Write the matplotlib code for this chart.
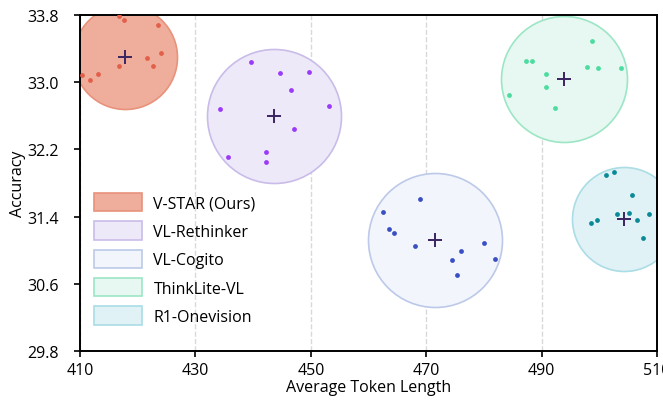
import matplotlib.pyplot as plt
from matplotlib.patches import Patch

plt.rcParams['font.family'] = ['Open Sans', 'DejaVu Sans']

models = ['V-STAR (Ours)', 'VL-Rethinker', 'VL-Cogito', 'ThinkLite-VL', 'R1-Onevision']

# mean (token length, accuracy) per model
centers_x = [417.8, 443.6, 471.5, 493.8, 504.3]
centers_y = [33.30, 32.60, 31.12, 33.03, 31.37]

# individual runs
runs_x = [
    [416.7, 417.7, 423.6, 424.1, 421.6, 422.6, 416.7, 413.2, 411.7, 410.3],
    [439.6, 444.6, 449.6, 446.6, 434.2, 453.1, 447.1, 442.2, 435.7, 442.2],
    [469.0, 462.5, 463.5, 464.5, 468.0, 480.0, 476.0, 474.5, 481.9, 475.4],
    [498.8, 487.3, 488.3, 497.8, 499.8, 503.7, 490.8, 490.8, 484.3, 492.4],
    [501.1, 502.6, 505.6, 503.1, 505.1, 508.6, 499.6, 498.6, 506.6, 507.6],
]
runs_y = [
    [33.78, 33.74, 33.68, 33.34, 33.28, 33.19, 33.19, 33.10, 33.02, 33.08],
    [33.24, 33.11, 33.12, 32.91, 32.68, 32.72, 32.44, 32.17, 32.11, 32.05],
    [31.61, 31.45, 31.25, 31.21, 31.05, 31.08, 30.99, 30.88, 30.90, 30.70],
    [33.49, 33.25, 33.25, 33.18, 33.17, 33.17, 33.09, 32.94, 32.85, 32.69],
    [31.90, 31.93, 31.66, 31.43, 31.44, 31.43, 31.36, 31.32, 31.36, 31.15],
]

fill_colors = ['#EFAE9C', '#EEE9F9', '#F2F5FC', '#E6F8F1', '#E1F2F6']
edge_colors = ['#E8927B', '#C9BCE9', '#BCC9E8', '#9CE6C6', '#AADDE5']
dot_colors = ['#E2604A', '#9B3BFA', '#3A4FC4', '#4CDCA0', '#0A8A96']
circle_px = [52, 67, 67, 63, 52]

fig, ax = plt.subplots(figsize=(6.63, 4.02), dpi=100)
fig.subplots_adjust(left=0.1207, right=0.991, top=0.961, bottom=0.124)

for i in range(len(models)):
    s = (2 * circle_px[i] * 0.72) ** 2
    ax.scatter(centers_x[i], centers_y[i], s=s, facecolor=fill_colors[i],
               edgecolor=edge_colors[i], linewidth=1.2, zorder=2)
    ax.scatter(runs_x[i], runs_y[i], s=12, color=dot_colors[i], linewidth=0, zorder=3)
    ax.scatter(centers_x[i], centers_y[i], s=110, marker='+', color='#3B2461',
               linewidth=1.4, zorder=4)

ax.set_xlim(410, 510)
ax.set_ylim(29.8, 33.8)
ax.set_xticks([410, 430, 450, 470, 490, 510])
ax.set_yticks([29.8, 30.6, 31.4, 32.2, 33.0, 33.8])
ax.xaxis.grid(True, linestyle='--', color='#D9D9D9', linewidth=1, zorder=0)
ax.set_axisbelow(True)
ax.tick_params(labelsize=11.5, length=4, width=1.2)
ax.tick_params(axis='y', pad=11)
for sp in ax.spines.values():
    sp.set_linewidth(1.4)
ax.set_xlabel('Average Token Length', fontsize=11.5, labelpad=1)
ax.set_ylabel('Accuracy', fontsize=11.5, labelpad=1)

handles = [Patch(facecolor=fill_colors[i], edgecolor=edge_colors[i], linewidth=1.2)
           for i in range(len(models))]
ax.legend(handles, models, loc='lower left', bbox_to_anchor=(0.0, 0.035),
          frameon=False, fontsize=11.5, handlelength=3.0, handleheight=1.4,
          labelspacing=0.62, handletextpad=0.7)

fig.savefig('out.png', dpi=100)
